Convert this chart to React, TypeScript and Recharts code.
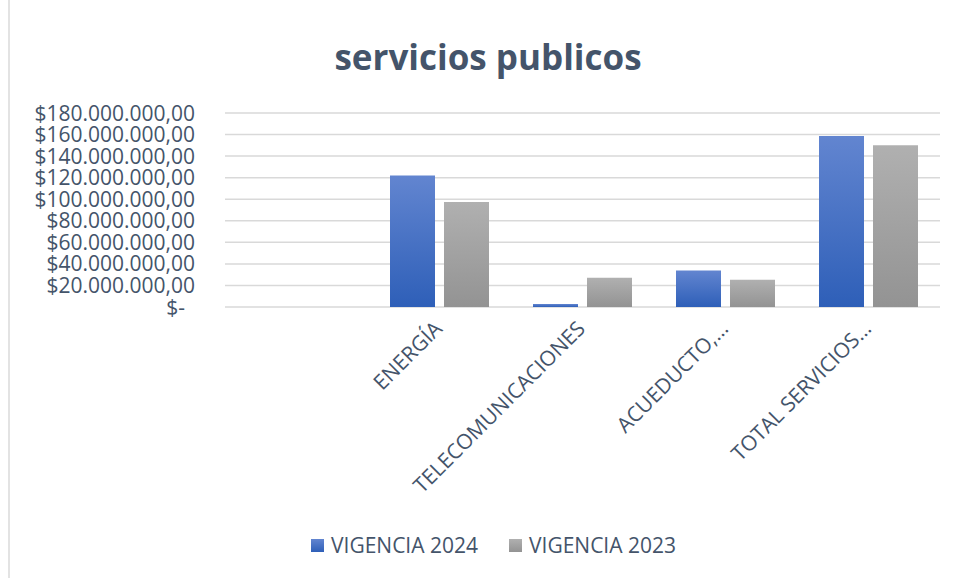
import { Bar, BarChart, CartesianGrid, Legend, XAxis, YAxis } from "recharts";

const CATEGORIES = ["", "ENERGÍA", "TELECOMUNICACIONES", "ACUEDUCTO,…", "TOTAL SERVICIOS…"];
const VIGENCIA_2024 = [null, 122000000, 2800000, 33800000, 158600000];
const VIGENCIA_2023 = [null, 97500000, 27200000, 25300000, 150000000];
const Y_TICKS = [0, 20000000, 40000000, 60000000, 80000000, 100000000, 120000000, 140000000, 160000000, 180000000];

const TEXT = "#44546a";
const GRID = "#d9d9d9";
const FONT = "'Open Sans', sans-serif";

const rows = CATEGORIES.map((name, i) => ({
  name,
  v2024: VIGENCIA_2024[i],
  v2023: VIGENCIA_2023[i],
}));

const money = (v: number) => {
  if (v === 0) return "$-";
  const s = Math.round(v).toString().replace(/\B(?=(\d{3})+(?!\d))/g, ".");
  return `$${s},00`;
};

// labels right-aligned at a fixed column, like the spreadsheet
const YTick = ({ y, payload }: any) => (
  <text
    x={payload.value === 0 ? 185 : 195}
    y={y}
    dy="0.36em"
    textAnchor="end"
    fill={TEXT}
    fontSize={21}
    fontFamily={FONT}
  >
    {money(payload.value)}
  </text>
);

const XTick = ({ x, y, payload }: any) => (
  <g transform={`translate(${x + 4},${y + 15})`}>
    <text textAnchor="end" transform="rotate(-45)" fill={TEXT} fontSize={21} fontFamily={FONT}>
      {payload.value}
    </text>
  </g>
);

const LegendBox = () => (
  <div
    style={{
      display: "flex",
      justifyContent: "center",
      gap: 31,
      height: 46,
      paddingLeft: 47,
      alignItems: "center",
      fontFamily: FONT,
      fontSize: 21,
      color: TEXT,
    }}
  >
    {[
      { label: "VIGENCIA 2024", bg: "linear-gradient(#6285d0, #2e5fb8)" },
      { label: "VIGENCIA 2023", bg: "linear-gradient(#b0b0b0, #939393)" },
    ].map((it) => (
      <div key={it.label} style={{ display: "flex", alignItems: "center", gap: 7 }}>
        <div style={{ width: 13, height: 13, background: it.bg }} />
        <span>{it.label}</span>
      </div>
    ))}
  </div>
);

export default function App() {
  return (
    <div
      style={{
        position: "absolute",
        left: 0,
        top: 0,
        width: 956,
        height: 578,
        background: "#fff",
        overflow: "hidden",
      }}
    >
      <div style={{ position: "absolute", left: 8, top: 0, width: 2, height: 578, background: "#e3e3e3" }} />
      <div
        style={{
          position: "absolute",
          top: 33,
          left: 0,
          width: 976,
          textAlign: "center",
          fontFamily: FONT,
          fontWeight: 700,
          fontSize: 35,
          color: TEXT,
        }}
      >
        servicios publicos
      </div>
      <BarChart
        width={956}
        height={578}
        data={rows}
        margin={{ top: 113, right: 16, bottom: 10, left: 0 }}
        barGap={9}
        barCategoryGap={22}
      >
        <defs>
          <linearGradient id="gBlue" x1="0" y1="0" x2="0" y2="1">
            <stop offset="0%" stopColor="#6285d0" />
            <stop offset="100%" stopColor="#2e5fb8" />
          </linearGradient>
          <linearGradient id="gGray" x1="0" y1="0" x2="0" y2="1">
            <stop offset="0%" stopColor="#b0b0b0" />
            <stop offset="100%" stopColor="#939393" />
          </linearGradient>
        </defs>
        <CartesianGrid stroke={GRID} strokeWidth={1.5} vertical={false} />
        <XAxis
          dataKey="name"
          interval={0}
          axisLine={false}
          tickLine={false}
          height={215}
          tick={<XTick />}
        />
        <YAxis
          width={225}
          domain={[0, 180000000]}
          ticks={Y_TICKS}
          interval={0}
          axisLine={false}
          tickLine={false}
          tick={<YTick />}
        />
        <Legend verticalAlign="bottom" content={<LegendBox />} />
        <Bar dataKey="v2024" name="VIGENCIA 2024" fill="url(#gBlue)" isAnimationActive={false} />
        <Bar dataKey="v2023" name="VIGENCIA 2023" fill="url(#gGray)" isAnimationActive={false} />
      </BarChart>
    </div>
  );
}
